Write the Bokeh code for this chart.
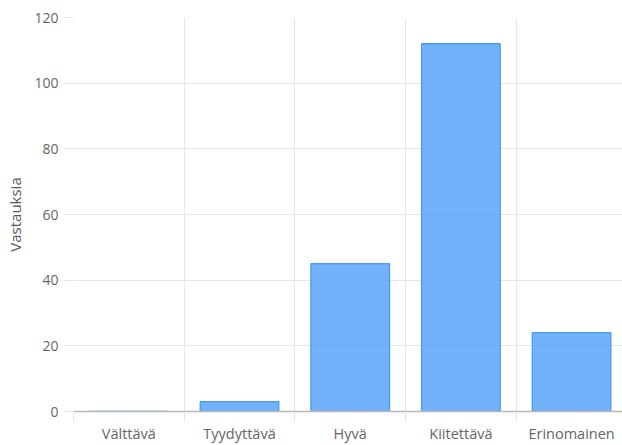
from bokeh.plotting import figure
from bokeh.models import Range1d, FixedTicker, ColumnDataSource
from bokeh.embed import file_html
from bokeh.resources import INLINE

categories = ["Välttävä", "Tyydyttävä", "Hyvä", "Kiitettävä", "Erinomainen"]
values = [0, 3, 45, 112, 24]
y_ticks = [0, 20, 40, 60, 80, 100, 120]
y_label = "Vastauksia"

xs = list(range(len(categories)))
src = ColumnDataSource(dict(x=xs, top=values))

p = figure(width=622, height=445, output_backend="svg", toolbar_location=None,
           x_range=Range1d(-0.5, len(categories) - 0.54), y_range=Range1d(0, 120),
           min_border_left=73, min_border_top=17, min_border_right=0, min_border_bottom=0)
p.outline_line_color = None

p.vbar(x="x", top="top", width=0.71, source=src, fill_color="#4a9cf8", fill_alpha=0.78,
       line_color="#4a9af5", line_width=1.3)

font = "Open Sans"
bounds = [i - 0.5 for i in range(len(categories))]

# x axis
p.xaxis.ticker = FixedTicker(ticks=xs, minor_ticks=bounds)
p.xaxis.major_label_overrides = {i: c for i, c in enumerate(categories)}
p.xaxis.major_tick_line_color = None
p.xaxis.major_tick_out = 0
p.xaxis.minor_tick_out = 11
p.xaxis.minor_tick_in = 0
p.xaxis.minor_tick_line_color = "#e6e6e6"
p.xaxis.axis_line_color = "#b8b8b8"
p.xaxis.axis_line_width = 1.5
p.xaxis.major_label_standoff = 1
p.xaxis.major_label_text_font = font
p.xaxis.major_label_text_font_size = "14.5px"
p.xaxis.major_label_text_color = "#666666"

# y axis
p.yaxis.ticker = FixedTicker(ticks=y_ticks)
p.yaxis.axis_line_color = None
p.yaxis.major_tick_line_color = "#e6e6e6"
p.yaxis.major_tick_out = 10
p.yaxis.major_tick_in = 0
p.yaxis.minor_tick_line_color = None
p.yaxis.major_label_standoff = 5
p.yaxis.major_label_text_font = font
p.yaxis.major_label_text_font_size = "14px"
p.yaxis.major_label_text_color = "#666666"
p.yaxis.axis_label = y_label
p.yaxis.axis_label_text_font = font
p.yaxis.axis_label_text_font_size = "15px"
p.yaxis.axis_label_text_font_style = "normal"
p.yaxis.axis_label_text_color = "#555555"
p.yaxis.axis_label_standoff = 6

# grids
p.xgrid.ticker = FixedTicker(ticks=bounds)
p.xgrid.grid_line_color = "#e6e6e6"
p.ygrid.grid_line_color = "#e6e6e6"

open("out.html", "w").write(file_html(p, INLINE))
